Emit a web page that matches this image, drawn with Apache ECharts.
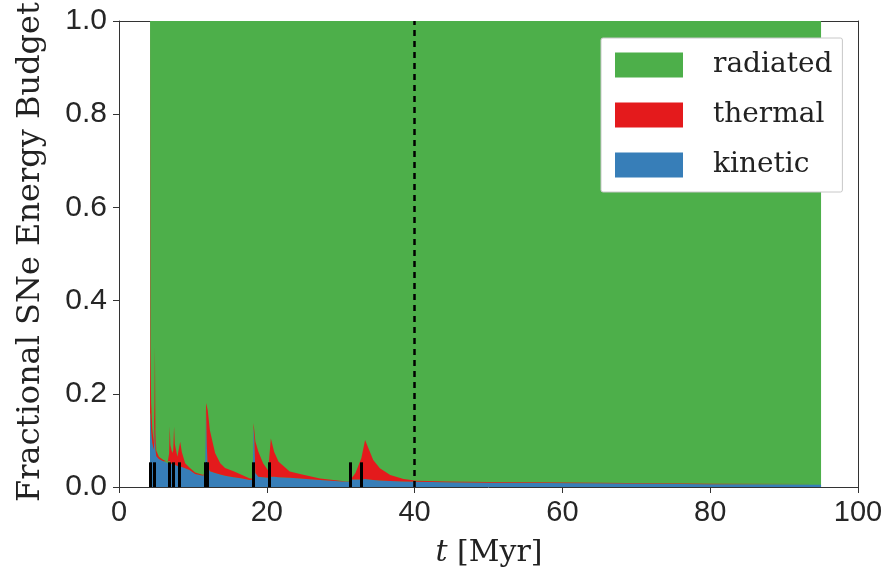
<!DOCTYPE html>
<html>
<head>
<meta charset="utf-8">
<script src="https://cdn.jsdelivr.net/npm/echarts@6/dist/echarts.min.js"></script>
<style>
  html, body { margin: 0; padding: 0; background: #fff; }
  #chart { width: 887px; height: 579px; }
</style>
</head>
<body>
<div id="chart"></div>
<script>
// ---- data ----
const timeMyr = [4.2, 4.26, 4.35, 4.5, 4.7, 4.8, 4.86, 4.93, 5.05, 5.4, 6.0, 6.6, 6.78, 6.87, 6.95, 7.2, 7.34, 7.45, 7.55, 7.9, 8.05, 8.28, 8.5, 8.95, 9.6, 10.3, 11.4, 11.65, 11.78, 11.88, 12.0, 12.3, 13.0, 13.7, 14.35, 15.5, 16.5, 17.7, 18.1, 18.2, 18.32, 18.45, 18.85, 19.5, 20.2, 20.35, 20.55, 21.0, 21.6, 23.1, 24.5, 27.2, 30.8, 31.3, 31.45, 32.0, 32.8, 33.3, 34.4, 35.3, 36.7, 38.5, 40.3, 44.3, 50, 65, 80, 95];
const kinetic = [0.16, 0.155, 0.12, 0.095, 0.08, 0.10, 0.14, 0.08, 0.066, 0.06, 0.055, 0.051, 0.052, 0.055, 0.05, 0.048, 0.049, 0.052, 0.048, 0.045, 0.044, 0.046, 0.043, 0.04, 0.036, 0.028, 0.024, 0.03, 0.17, 0.09, 0.045, 0.034, 0.03, 0.027, 0.024, 0.021, 0.019, 0.015, 0.016, 0.13, 0.10, 0.03, 0.022, 0.021, 0.02, 0.022, 0.022, 0.022, 0.021, 0.02, 0.018, 0.015, 0.011, 0.011, 0.016, 0.016, 0.016, 0.017, 0.015, 0.014, 0.013, 0.012, 0.011, 0.010, 0.009, 0.008, 0.006, 0.005];
const thermal = [0.84, 0.145, 0.06, 0.03, 0.015, 0.08, 0.16, 0.04, 0.012, 0.005, 0.003, 0.003, 0.02, 0.075, 0.04, 0.025, 0.03, 0.078, 0.045, 0.02, 0.018, 0.051, 0.032, 0.011, 0.005, 0.003, 0.002, 0.003, 0.01, 0.09, 0.12, 0.088, 0.043, 0.024, 0.017, 0.013, 0.008, 0.003, 0.002, 0.007, 0.02, 0.068, 0.054, 0.03, 0.015, 0.045, 0.082, 0.053, 0.033, 0.013, 0.01, 0.003, 0.001, 0.001, 0.002, 0.014, 0.046, 0.084, 0.043, 0.026, 0.013, 0.005, 0.0025, 0.002, 0.0015, 0.001, 0.0012, 0.0014];
const radiatedTime = [4.2, 95];
const radiated = [1.0, 1.0];
const snTimes = [4.19, 4.76, 6.74, 7.28, 8.09, 11.7, 12.0, 18.2, 20.3, 31.3, 32.8];
const snMarkHeight = 0.053;
const dashedTime = 40;
const seriesNames = ['radiated', 'thermal', 'kinetic'];

// ---- styles ----
const COLORS = { radiated: '#4daf4a', thermal: '#e41a1c', kinetic: '#377eb8' };
const SERIF = '"DejaVu Serif", "Liberation Serif", serif';
const SANS = '"Liberation Sans", Arial, sans-serif';
const AXIS_COLOR = '#333';

// rows are [value, time] so the value column is the first stackable dimension
const rows = (xs, ys) => xs.map((x, i) => [ys[i], x]);

function areaSeries(name, data, z, stack) {
  const s = {
    name: name,
    type: 'line',
    data: data,
    encode: { x: 1, y: 0 },
    z: z,
    showSymbol: false,
    symbol: 'none',
    smooth: false,
    itemStyle: { color: COLORS[name] },
    lineStyle: { width: 0, color: COLORS[name] },
    areaStyle: { color: COLORS[name], opacity: 1 },
    emphasis: { disabled: true },
    silent: true
  };
  if (stack) s.stack = stack;
  return s;
}

const chart = echarts.init(document.getElementById('chart'), null, { renderer: 'canvas' });

const option = {
  animation: false,
  backgroundColor: '#fff',
  grid: { left: 119, right: 29, top: 21, bottom: 92, containLabel: false },
  xAxis: [
    {
      type: 'value', min: 0, max: 100, interval: 20, position: 'bottom',
      axisLine: { show: true, onZero: false, lineStyle: { color: AXIS_COLOR, width: 1 } },
      axisTick: { show: true, inside: false, length: 6, lineStyle: { color: AXIS_COLOR, width: 1 } },
      axisLabel: { color: '#262626', fontFamily: SANS, fontSize: 29, margin: 11 },
      splitLine: { show: false }
    },
    {
      type: 'value', min: 0, max: 100, interval: 20, position: 'top',
      axisLine: { show: true, onZero: false, lineStyle: { color: AXIS_COLOR, width: 1 } },
      axisTick: { show: false }, axisLabel: { show: false }, splitLine: { show: false }
    }
  ],
  yAxis: [
    {
      type: 'value', min: 0, max: 1, interval: 0.2, position: 'left',
      axisLine: { show: true, onZero: false, lineStyle: { color: AXIS_COLOR, width: 1 } },
      axisTick: { show: true, inside: false, length: 6, lineStyle: { color: AXIS_COLOR, width: 1 } },
      axisLabel: { color: '#262626', fontFamily: SANS, fontSize: 30, margin: 12, formatter: v => v.toFixed(1) },
      splitLine: { show: false }
    },
    {
      type: 'value', min: 0, max: 1, interval: 0.2, position: 'right',
      axisLine: { show: true, onZero: false, lineStyle: { color: AXIS_COLOR, width: 1 } },
      axisTick: { show: false }, axisLabel: { show: false }, splitLine: { show: false }
    }
  ],
  legend: {
    data: seriesNames.map(n => ({ name: n, icon: 'rect', itemStyle: { color: COLORS[n] } })),
    orient: 'vertical',
    left: 601, top: 38,
    padding: [13, 10, 13, 14],
    itemWidth: 68, itemHeight: 25, itemGap: 22,
    backgroundColor: '#fff',
    borderColor: '#c8c8c8', borderWidth: 1, borderRadius: 2,
    selectedMode: false,
    textStyle: { fontFamily: SERIF, fontSize: 28, color: '#222', padding: [0, 0, 0, 25] }
  },
  graphic: [
    {
      type: 'text', x: 31, y: 252, rotation: Math.PI / 2, z: 100,
      style: { text: 'Fractional SNe Energy Budget', font: '32px ' + SERIF, fill: '#222', align: 'center', verticalAlign: 'middle' }
    },
    {
      type: 'text', x: 489, y: 553, z: 100,
      style: {
        text: '{i|t} [Myr]', align: 'center', verticalAlign: 'middle',
        font: '30px ' + SERIF, fill: '#222',
        rich: { i: { fontStyle: 'italic', fontFamily: SERIF, fontSize: 30, fill: '#222', color: '#222' } }
      }
    }
  ],
  series: [
    areaSeries('radiated', rows(radiatedTime, radiated), 1),
    areaSeries('kinetic', rows(timeMyr, kinetic), 2, 'budget'),
    areaSeries('thermal', rows(timeMyr, thermal), 2, 'budget'),
    {
      name: 'markers', type: 'line', data: [], z: 5, silent: true,
      markLine: {
        silent: true, animation: false, symbol: ['none', 'none'],
        label: { show: false },
        emphasis: { disabled: true },
        data: snTimes.map(t => [
          { coord: [t, 0], lineStyle: { color: '#000', width: 3, type: 'solid' } },
          { coord: [t, snMarkHeight] }
        ]).concat([
          { xAxis: dashedTime, lineStyle: { color: '#000', width: 2.5, type: [6, 5] } }
        ])
      }
    }
  ]
};

chart.setOption(option);
</script>
</body>
</html>
